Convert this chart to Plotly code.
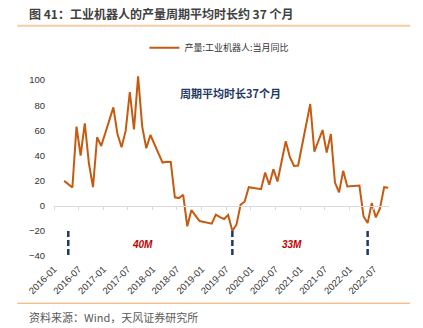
import plotly.graph_objects as go

# ---- data ----
months = ["2016-03","2016-04","2016-05","2016-06","2016-07","2016-08","2016-09","2016-10","2016-11","2016-12",
          "2017-03","2017-04","2017-05","2017-06","2017-07","2017-08","2017-09","2017-10","2017-11","2017-12",
          "2018-03","2018-04","2018-05","2018-06","2018-07","2018-08","2018-09","2018-10","2018-11","2018-12",
          "2019-03","2019-04","2019-05","2019-06","2019-07","2019-08","2019-09","2019-10","2019-11","2019-12",
          "2020-03","2020-04","2020-05","2020-06","2020-07","2020-08","2020-09","2020-10","2020-11","2020-12",
          "2021-03","2021-04","2021-05","2021-06","2021-07","2021-08","2021-09","2021-10","2021-11","2021-12",
          "2022-03","2022-04","2022-05","2022-06","2022-07","2022-08","2022-09","2022-10"]
yoy = [19.8, 17.2, 14.6, 63.0, 40.0, 65.6, 33.8, 14.8, 54.5, 47.6,
       78.3, 57.0, 46.6, 59.8, 90.5, 60.8, 103.0, 63.0, 45.8, 56.3,
       34.4, 35.1, 34.9, 6.7, 6.1, 8.7, -16.4, -3.5, -8.0, -12.2,
       -14.3, -7.1, -9.0, -10.5, -7.3, -20.0, -15.1, 0.8, 3.4, 14.8,
       13.2, 26.4, 16.7, 29.1, 19.3, 35.0, 51.3, 38.6, 31.7, 32.0,
       81.0, 43.1, 51.0, 60.3, 42.3, 57.1, 18.5, 10.6, 27.8, 15.3,
       16.1, -8.5, -13.8, 2.1, -9.3, -1.9, 14.8, 14.3]
series_name = "产量:工业机器人:当月同比"

trough_months = ["2016-04", "2019-08", "2022-05"]
trough_span = [-20, -40]
cycle_labels = ["40M", "33M"]
cycle_label_dates = ["2017-10-20", "2020-11-01"]
cycle_label_y = -31
note_text = "周期平均时长37个月"
note_date = "2019-08-01"
note_y = 90

tick_labels = ["2016-01","2016-07","2017-01","2017-07","2018-01","2018-07","2019-01","2019-07",
               "2020-01","2020-07","2021-01","2021-07","2022-01","2022-07"]
y_ticks = [-40, -20, 0, 20, 40, 60, 80, 100]

title = "图 41：工业机器人的产量周期平均时长约 37 个月"
source = "资料来源：Wind，天风证券研究所"

X_RANGE = ["2016-01-01", "2022-10-22"]
Y_RANGE = [-40, 120]

CJK = "Noto Sans CJK SC, Liberation Sans, sans-serif"
NUM = "Liberation Sans, Arial, sans-serif"
ORANGE = "#c55a11"
NAVY = "#1f3864"

fig = go.Figure()
fig.add_trace(go.Scatter(
    x=months, y=yoy, mode="lines", name=series_name,
    line=dict(color=ORANGE, width=2),
    xperiod="M1", xperiodalignment="middle",
))
for m in trough_months:
    fig.add_trace(go.Scatter(
        x=[m, m], y=trough_span, mode="lines", showlegend=False,
        line=dict(color=NAVY, width=2.5, dash="6px,3px"),
        xperiod="M1", xperiodalignment="middle",
    ))
# zero-line axis carrier
fig.add_trace(go.Scatter(x=[X_RANGE[0]], y=[0], xaxis="x2", mode="markers",
                         marker=dict(opacity=0), showlegend=False, hoverinfo="skip"))

for lab, d in zip(cycle_labels, cycle_label_dates):
    fig.add_annotation(x=d, y=cycle_label_y, text=f"<b><i>{lab}</i></b>", showarrow=False,
                       font=dict(family=NUM, size=10, color="#c00000"))
fig.add_annotation(x=note_date, y=note_y, text=f"<b>{note_text}</b>", showarrow=False,
                   font=dict(family=CJK, size=11, color=NAVY))

# title, source, decorative rules
fig.add_annotation(xref="paper", yref="paper", x=-0.082, y=1.2075, xanchor="left", yanchor="middle",
                   text=f"<b>{title}</b>", showarrow=False,
                   font=dict(family=CJK, size=12, color="#404040"))
fig.add_annotation(xref="paper", yref="paper", x=-0.082, y=-0.302, xanchor="left", yanchor="middle",
                   text=source, showarrow=False,
                   font=dict(family=CJK, size=11, color="#595959"))
fig.add_shape(type="line", xref="paper", yref="paper", x0=-0.1096, x1=1.0627, y0=1.1458, y1=1.1458,
              line=dict(color="#f8cba0", width=2))
fig.add_shape(type="line", xref="paper", yref="paper", x0=-0.1096, x1=1.0627, y0=-0.235, y1=-0.235,
              line=dict(color="#f4a460", width=1))

fig.update_layout(
    width=423, height=328,
    margin=dict(l=54, r=34, t=55, b=72),
    paper_bgcolor="white", plot_bgcolor="white",
    showlegend=True,
    legend=dict(x=0.27, y=1.036, xanchor="left", yanchor="middle", orientation="h",
                font=dict(family=CJK, size=9, color="#333333"), bgcolor="rgba(0,0,0,0)"),
    xaxis=dict(type="date", range=X_RANGE, tickvals=tick_labels, ticktext=tick_labels,
               tickangle=-45, showgrid=False, showline=False, zeroline=False, ticks="",
               ticklabelstandoff=5,
               tickfont=dict(family=NUM, size=9.5, color="#333333")),
    xaxis2=dict(type="date", range=X_RANGE, overlaying="x", anchor="free", position=0.25,
                tickvals=tick_labels, showticklabels=False, showgrid=False, zeroline=False,
                showline=True, linecolor="#d9d9d9", linewidth=1,
                ticks="outside", ticklen=3, tickcolor="#d9d9d9"),
    yaxis=dict(range=Y_RANGE, tickvals=y_ticks, showgrid=False, zeroline=False, showline=False,
               ticks="", ticklabelstandoff=8,
               tickfont=dict(family=NUM, size=9.5, color="#333333")),
)

fig.write_html("out.html")
